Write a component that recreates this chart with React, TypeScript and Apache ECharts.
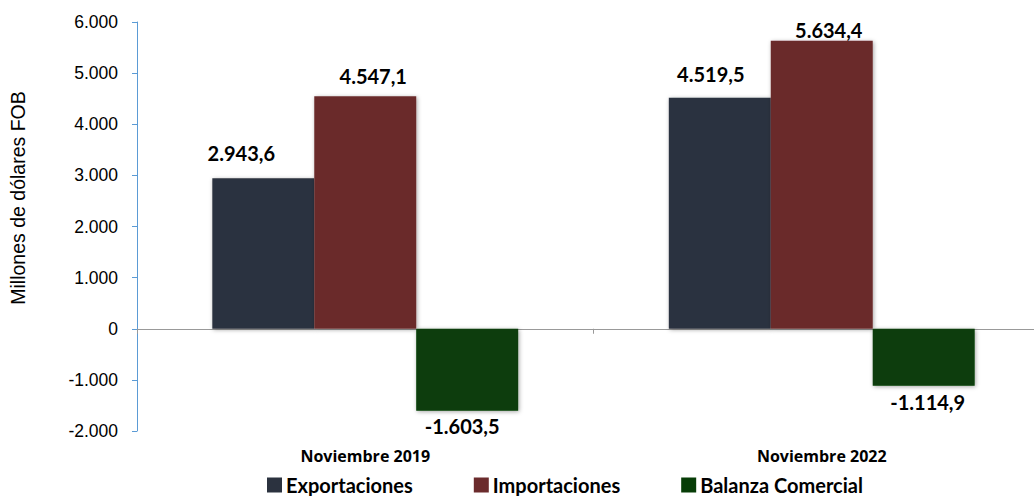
import React, { useEffect, useRef } from "react";
import * as echarts from "echarts";

const categories = ["Noviembre 2019", "Noviembre 2022"];
const exportaciones = [2943.6, 4519.5];
const importaciones = [4547.1, 5634.4];
const balanza = [-1603.5, -1114.9];
const seriesNames = ["Exportaciones", "Importaciones", "Balanza Comercial"];
const colors = ["#2B323F", "#6B2B2C", "#073D07"];
const axisTitle = "Millones de dólares FOB";

// label offsets [dx, dy] per series per category (manual placement as in the original)
const labelOffsets = [
  [[-22, -15], [-9, -14]],
  [[8, -10], [7, -1]],
  [[-5, 5], [4, 6]],
];

function fmt(v: number, dec: number) {
  const neg = v < 0;
  const a = Math.abs(v);
  const fixed = a.toFixed(dec);
  const [intPart, decPart] = fixed.split(".");
  const withDots = intPart.replace(/\B(?=(\d{3})+(?!\d))/g, ".");
  return (neg ? "-" : "") + withDots + (decPart ? "," + decPart : "");
}

export default function App() {
  const ref = useRef<HTMLDivElement>(null);
  useEffect(() => {
    document.body.style.margin = "0";
    const chart = echarts.init(ref.current!, null, { renderer: "svg" });
    const mk = (si: number, data: number[]) => ({
      name: seriesNames[si],
      type: "bar",
      barGap: "0%",
      barCategoryGap: "33%",
      data: data.map((v, i) => ({
        value: v,
        label: {
          position: v < 0 ? "bottom" : "top",
          distance: 0,
          offset: labelOffsets[si][i],
        },
      })),
      itemStyle: {
        color: colors[si],
        shadowColor: "rgba(0,0,0,0.35)",
        shadowBlur: 4,
        shadowOffsetX: 1,
        shadowOffsetY: 1,
      },
      label: {
        show: true,
        fontFamily: "Lato, 'Open Sans', sans-serif",
        fontWeight: "bold",
        fontSize: 20,
        color: "#000",
        formatter: (p: any) => fmt(p.value, 1),
      },
    });
    chart.setOption({
      animation: false,
      grid: { left: 137, right: 0, top: 22, bottom: 65, containLabel: false },
      legend: {
        top: 475,
        left: 267,
        padding: 0,
        itemWidth: 15,
        itemHeight: 15,
        itemGap: 61,
        icon: "rect",
        textStyle: {
          fontFamily: "Lato, 'Open Sans', sans-serif",
          fontWeight: "bold",
          fontSize: 20,
          lineHeight: 20,
          color: "#000",
          padding: [0, 0, 0, -1],
        },
        data: seriesNames,
      },
      graphic: [
        {
          type: "text",
          x: 18,
          y: 198,
          rotation: Math.PI / 2,
          style: {
            text: axisTitle,
            fontFamily: "Liberation Sans, Arial, sans-serif",
            fontSize: 19.5,
            fill: "#000",
            textAlign: "center",
            textVerticalAlign: "middle",
          },
        },
      ],
      xAxis: {
        type: "category",
        data: categories,
        position: "bottom",
        axisLine: { onZero: true, lineStyle: { color: "#999", width: 1 } },
        axisTick: { show: true, alignWithLabel: false, length: 5, lineStyle: { color: "#999" } },
        axisLabel: {
          fontFamily: "'Open Sans', Lato, sans-serif",
          fontWeight: "bold",
          fontSize: 16,
          color: "#000",
          margin: 17,
        },
      },
      yAxis: {
        type: "value",
        min: -2000,
        max: 6000,
        interval: 1000,
        axisLine: { show: true, lineStyle: { color: "#5B9BD5", width: 1 } },
        axisTick: { show: true, length: 5, lineStyle: { color: "#5B9BD5" } },
        splitLine: { show: false },
        axisLabel: {
          fontFamily: "Liberation Sans, Arial, sans-serif",
          fontSize: 17.5,
          color: "#000",
          margin: 19,
          formatter: (v: number) => fmt(v, 0),
        },
      },
      series: [mk(0, exportaciones), mk(1, importaciones), mk(2, balanza)],
    });
    return () => chart.dispose();
  }, []);
  return (
    <div style={{ width: 1034, height: 496, overflow: "hidden" }}>
      <div ref={ref} style={{ width: 1050, height: 496 }} />
    </div>
  );
}
